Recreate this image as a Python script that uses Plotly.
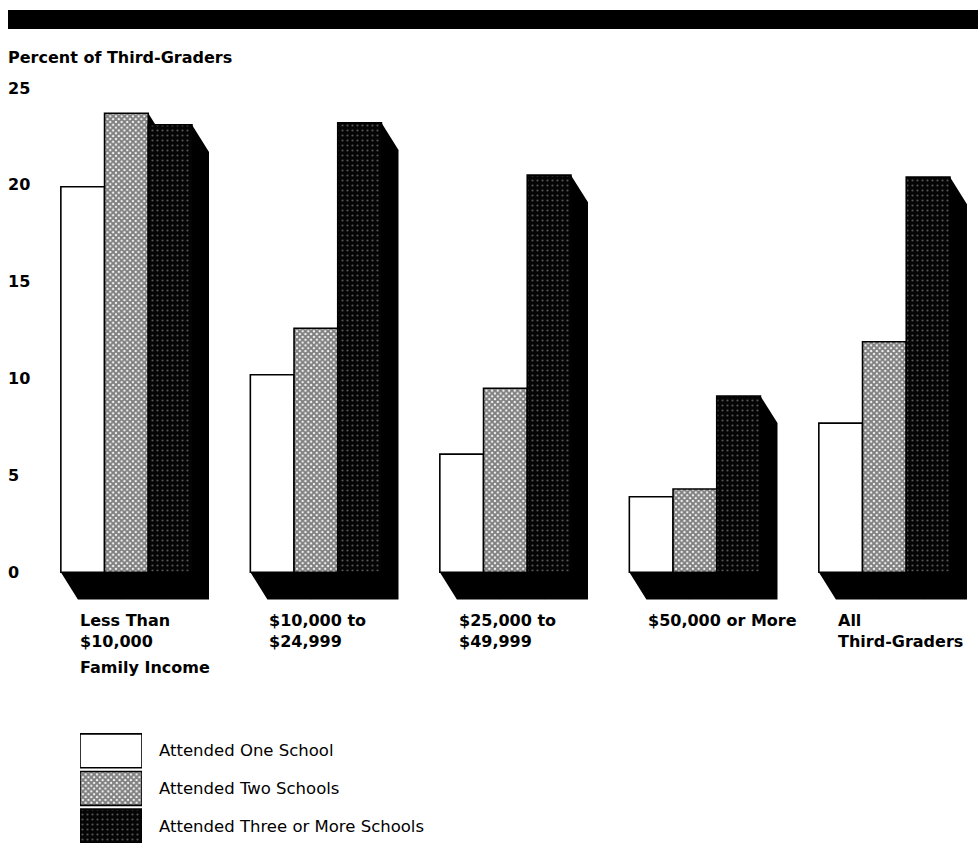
import plotly.graph_objects as go

# ---- data ----
income_groups = ["Less Than<br>$10,000", "$10,000 to<br>$24,999", "$25,000 to<br>$49,999",
                 "$50,000 or More", "All<br>Third-Graders"]
series_names = ["Attended One School", "Attended Two Schools", "Attended Three or More Schools"]
one_school = [19.9, 10.2, 6.1, 3.9, 7.7]
two_schools = [23.7, 12.6, 9.5, 4.3, 11.9]
three_plus = [23.1, 23.2, 20.5, 9.1, 20.4]
y_ticks = [0, 5, 10, 15, 20, 25]
y_title = "Percent of Third-Graders"
x_note = "Family Income"

# ---- layout constants ----
W, H = 978, 843
PLOT_TOP_PX, PLOT_BOTTOM_PX = 88, 611
Y_RANGE = [-2, 25]
X_RANGE = [-0.667, 4.494]
BAR_W = 0.2306          # bar width in category units
DX, DY = 0.09, 1.4      # depth of the extruded (3-D) faces
BOLD_FONT = "DejaVu Sans, Liberation Sans, Arial, sans-serif"
TEXT_FONT = "DejaVu Sans, Liberation Sans, Arial, sans-serif"

series_values = [one_school, two_schools, three_plus]
styles = [
    dict(color="#ffffff"),
    dict(color="#ffffff", pattern=dict(shape="x", bgcolor="#ffffff", fgcolor="#000000",
                                        size=4, solidity=0.75, fillmode="overlay")),
    dict(color="#000000", pattern=dict(shape=".", bgcolor="#050505", fgcolor="#a8a8a8",
                                        size=5, solidity=0.15, fillmode="overlay")),
]

xs = list(range(len(income_groups)))
fig = go.Figure()
for k, (name, vals, st) in enumerate(zip(series_names, series_values, styles)):
    fig.add_trace(go.Bar(
        x=xs, y=vals, name=name, width=BAR_W, offset=(k - 1.5) * BAR_W,
        marker=dict(**st, line=dict(color="#000000", width=1.6)),
        showlegend=False, hoverinfo="skip", xaxis="x", yaxis="y",
    ))

shapes = []
# black extruded faces, drawn beneath the bar fronts
for i in xs:
    gl = i - 1.5 * BAR_W
    gr = i + 1.5 * BAR_W
    for k, vals in enumerate(series_values[:-1]):
        r = i + (k - 0.5) * BAR_W
        v = vals[i]
        shapes.append(dict(type="path", xref="x", yref="y", layer="below",
                           path=f"M {r},{v} L {r+DX},{v-DY} L {r+DX},{-DY} L {r},0 Z",
                           fillcolor="#000000", line=dict(width=0)))
    # floor plus right side of the last bar as one solid piece
    v = series_values[-1][i]
    shapes.append(dict(type="path", xref="x", yref="y", layer="below",
                       path=(f"M {gl},0 L {gl+DX},{-DY} L {gr+DX},{-DY} "
                             f"L {gr+DX},{v-DY} L {gr},{v} L {gr},0 Z"),
                       fillcolor="#000000", line=dict(width=0)))

# top black band
shapes.append(dict(type="rect", xref="paper", yref="paper",
                   x0=8 / W, x1=1, y0=1 - 29 / H, y1=1 - 10 / H,
                   fillcolor="#000000", line=dict(width=0)))

bold = dict(size=16, family=BOLD_FONT, color="#000")
annotations = []
annotations.append(dict(text=f"<b>{y_title}</b>", xref="paper", yref="paper",
                        x=6 / W, y=1 - 57 / H, xanchor="left", yanchor="middle",
                        showarrow=False, font=bold))
for t in y_ticks:
    annotations.append(dict(text=f"<b>{t}</b>", xref="paper", yref="y", x=6 / W, y=t,
                            xanchor="left", yanchor="middle", showarrow=False, font=bold))
for i, g in enumerate(income_groups):
    annotations.append(dict(text=f"<b>{g}</b>", xref="x", yref="y",
                            x=i - 1.5 * BAR_W + DX, y=0, yshift=-37,
                            xanchor="left", yanchor="top", align="left", showarrow=False,
                            font=bold))
annotations.append(dict(text=f"<b>{x_note}</b>", xref="x", yref="paper",
                        x=-1.5 * BAR_W + DX, y=1 - 667 / H, xanchor="left", yanchor="middle",
                        showarrow=False, font=bold))

# legend swatches as a small bar subplot
leg_y = [2, 1, 0]
for name, st, yy in zip(series_names, styles, leg_y):
    fig.add_trace(go.Bar(
        x=[1], y=[yy], orientation="h", width=0.9, base=0,
        marker=dict(**st, line=dict(color="#000000", width=1.6)),
        showlegend=False, hoverinfo="skip", xaxis="x2", yaxis="y2",
    ))
    annotations.append(dict(text=name, xref="x2", yref="y2", x=1, y=yy, xshift=15,
                            xanchor="left", yanchor="middle", showarrow=False,
                            font=dict(size=16.5, family=TEXT_FONT, color="#000")))

fig.update_layout(
    width=W, height=H,
    margin=dict(l=0, r=0, t=0, b=0),
    paper_bgcolor="#ffffff", plot_bgcolor="rgba(0,0,0,0)",
    barmode="overlay",
    xaxis=dict(domain=[0, 1], range=X_RANGE, visible=False, fixedrange=True),
    yaxis=dict(domain=[1 - PLOT_BOTTOM_PX / H, 1 - PLOT_TOP_PX / H], range=Y_RANGE,
               visible=False, fixedrange=True),
    xaxis2=dict(domain=[80 / W, 142 / W], range=[0, 1], visible=False, anchor="y2"),
    yaxis2=dict(domain=[0, 1 - 732 / H], range=[-0.45, 2.5], visible=False, anchor="x2"),
    shapes=shapes,
    annotations=annotations,
)

fig.write_html("out.html")
